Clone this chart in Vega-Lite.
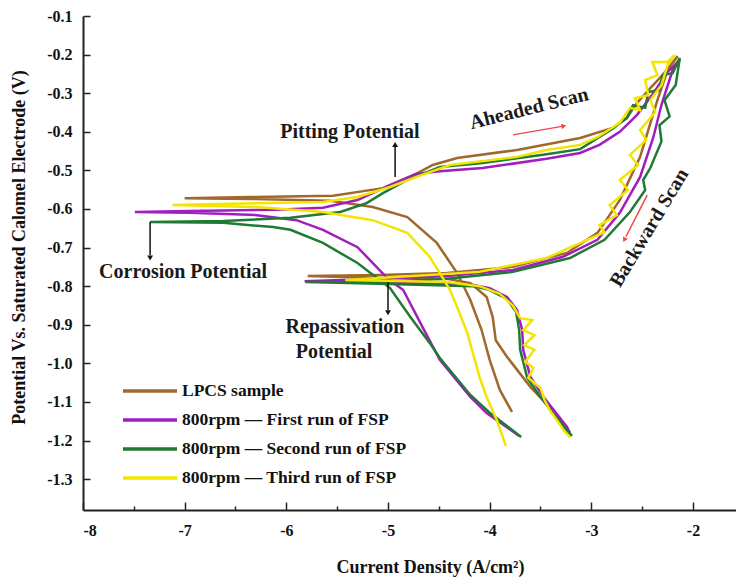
{
  "$schema": "https://vega.github.io/schema/vega-lite/v6.json",
  "width": 653,
  "height": 494,
  "autosize": {"type": "none"},
  "padding": {"left": 83, "top": 16, "right": 0, "bottom": 73},
  "background": "white",
  "config": {
    "font": "Liberation Serif",
    "view": {"stroke": null},
    "axis": {
      "domainColor": "#222",
      "domainWidth": 2,
      "tickColor": "#222",
      "tickWidth": 1.5,
      "labelFont": "Liberation Serif",
      "labelFontSize": 16,
      "labelFontWeight": "bold",
      "labelColor": "#111",
      "titleFont": "Liberation Serif",
      "titleFontSize": 18,
      "titleFontWeight": "bold",
      "titleColor": "#111",
      "grid": false,
      "labelOverlap": false
    }
  },
  "datasets": {
    "curves": [
      {"s": "LPCS sample", "i": 0, "x": -3.78, "y": -1.126},
      {"s": "LPCS sample", "i": 1, "x": -3.90, "y": -1.069},
      {"s": "LPCS sample", "i": 2, "x": -4.00, "y": -0.991},
      {"s": "LPCS sample", "i": 3, "x": -4.08, "y": -0.913},
      {"s": "LPCS sample", "i": 4, "x": -4.19, "y": -0.836},
      {"s": "LPCS sample", "i": 5, "x": -4.32, "y": -0.766},
      {"s": "LPCS sample", "i": 6, "x": -4.52, "y": -0.688},
      {"s": "LPCS sample", "i": 7, "x": -4.81, "y": -0.621},
      {"s": "LPCS sample", "i": 8, "x": -5.15, "y": -0.595},
      {"s": "LPCS sample", "i": 9, "x": -5.57, "y": -0.579},
      {"s": "LPCS sample", "i": 10, "x": -6.36, "y": -0.574},
      {"s": "LPCS sample", "i": 11, "x": -7.00, "y": -0.572},
      {"s": "LPCS sample", "i": 12, "x": -6.36, "y": -0.569},
      {"s": "LPCS sample", "i": 13, "x": -5.54, "y": -0.566},
      {"s": "LPCS sample", "i": 14, "x": -5.05, "y": -0.546},
      {"s": "LPCS sample", "i": 15, "x": -4.71, "y": -0.507},
      {"s": "LPCS sample", "i": 16, "x": -4.56, "y": -0.486},
      {"s": "LPCS sample", "i": 17, "x": -4.32, "y": -0.468},
      {"s": "LPCS sample", "i": 18, "x": -3.73, "y": -0.447},
      {"s": "LPCS sample", "i": 19, "x": -3.11, "y": -0.416},
      {"s": "LPCS sample", "i": 20, "x": -2.79, "y": -0.390},
      {"s": "LPCS sample", "i": 21, "x": -2.65, "y": -0.364},
      {"s": "LPCS sample", "i": 22, "x": -2.55, "y": -0.325},
      {"s": "LPCS sample", "i": 23, "x": -2.42, "y": -0.287},
      {"s": "LPCS sample", "i": 24, "x": -2.30, "y": -0.253},
      {"s": "LPCS sample", "i": 25, "x": -2.15, "y": -0.204},
      {"s": "LPCS sample", "i": 26, "x": -2.25, "y": -0.240},
      {"s": "LPCS sample", "i": 27, "x": -2.35, "y": -0.318},
      {"s": "LPCS sample", "i": 28, "x": -2.52, "y": -0.465},
      {"s": "LPCS sample", "i": 29, "x": -2.72, "y": -0.577},
      {"s": "LPCS sample", "i": 30, "x": -2.94, "y": -0.662},
      {"s": "LPCS sample", "i": 31, "x": -3.24, "y": -0.714},
      {"s": "LPCS sample", "i": 32, "x": -3.77, "y": -0.750},
      {"s": "LPCS sample", "i": 33, "x": -4.42, "y": -0.766},
      {"s": "LPCS sample", "i": 34, "x": -5.08, "y": -0.771},
      {"s": "LPCS sample", "i": 35, "x": -5.79, "y": -0.774},
      {"s": "LPCS sample", "i": 36, "x": -5.08, "y": -0.779},
      {"s": "LPCS sample", "i": 37, "x": -4.42, "y": -0.781},
      {"s": "LPCS sample", "i": 38, "x": -4.19, "y": -0.792},
      {"s": "LPCS sample", "i": 39, "x": -4.03, "y": -0.828},
      {"s": "LPCS sample", "i": 40, "x": -3.97, "y": -0.880},
      {"s": "LPCS sample", "i": 41, "x": -3.94, "y": -0.940},
      {"s": "LPCS sample", "i": 42, "x": -3.83, "y": -0.983},
      {"s": "LPCS sample", "i": 43, "x": -3.60, "y": -1.061},
      {"s": "LPCS sample", "i": 44, "x": -3.46, "y": -1.100},
      {"s": "LPCS sample", "i": 45, "x": -3.26, "y": -1.160},

      {"s": "800rpm — First run of FSP", "i": 0, "x": -3.71, "y": -1.188},
      {"s": "800rpm — First run of FSP", "i": 1, "x": -4.03, "y": -1.129},
      {"s": "800rpm — First run of FSP", "i": 2, "x": -4.19, "y": -1.087},
      {"s": "800rpm — First run of FSP", "i": 3, "x": -4.49, "y": -0.991},
      {"s": "800rpm — First run of FSP", "i": 4, "x": -4.66, "y": -0.906},
      {"s": "800rpm — First run of FSP", "i": 5, "x": -4.85, "y": -0.810},
      {"s": "800rpm — First run of FSP", "i": 6, "x": -5.00, "y": -0.781},
      {"s": "800rpm — First run of FSP", "i": 7, "x": -5.30, "y": -0.699},
      {"s": "800rpm — First run of FSP", "i": 8, "x": -5.64, "y": -0.654},
      {"s": "800rpm — First run of FSP", "i": 9, "x": -5.90, "y": -0.629},
      {"s": "800rpm — First run of FSP", "i": 10, "x": -6.29, "y": -0.616},
      {"s": "800rpm — First run of FSP", "i": 11, "x": -6.95, "y": -0.610},
      {"s": "800rpm — First run of FSP", "i": 12, "x": -7.49, "y": -0.608},
      {"s": "800rpm — First run of FSP", "i": 13, "x": -6.95, "y": -0.605},
      {"s": "800rpm — First run of FSP", "i": 14, "x": -6.10, "y": -0.602},
      {"s": "800rpm — First run of FSP", "i": 15, "x": -5.64, "y": -0.597},
      {"s": "800rpm — First run of FSP", "i": 16, "x": -5.30, "y": -0.577},
      {"s": "800rpm — First run of FSP", "i": 17, "x": -4.98, "y": -0.538},
      {"s": "800rpm — First run of FSP", "i": 18, "x": -4.72, "y": -0.509},
      {"s": "800rpm — First run of FSP", "i": 19, "x": -4.49, "y": -0.502},
      {"s": "800rpm — First run of FSP", "i": 20, "x": -4.07, "y": -0.494},
      {"s": "800rpm — First run of FSP", "i": 21, "x": -3.44, "y": -0.470},
      {"s": "800rpm — First run of FSP", "i": 22, "x": -3.11, "y": -0.455},
      {"s": "800rpm — First run of FSP", "i": 23, "x": -2.92, "y": -0.434},
      {"s": "800rpm — First run of FSP", "i": 24, "x": -2.72, "y": -0.400},
      {"s": "800rpm — First run of FSP", "i": 25, "x": -2.55, "y": -0.356},
      {"s": "800rpm — First run of FSP", "i": 26, "x": -2.39, "y": -0.300},
      {"s": "800rpm — First run of FSP", "i": 27, "x": -2.25, "y": -0.245},
      {"s": "800rpm — First run of FSP", "i": 28, "x": -2.13, "y": -0.214},
      {"s": "800rpm — First run of FSP", "i": 29, "x": -2.20, "y": -0.240},
      {"s": "800rpm — First run of FSP", "i": 30, "x": -2.31, "y": -0.330},
      {"s": "800rpm — First run of FSP", "i": 31, "x": -2.39, "y": -0.414},
      {"s": "800rpm — First run of FSP", "i": 32, "x": -2.52, "y": -0.517},
      {"s": "800rpm — First run of FSP", "i": 33, "x": -2.72, "y": -0.610},
      {"s": "800rpm — First run of FSP", "i": 34, "x": -2.94, "y": -0.680},
      {"s": "800rpm — First run of FSP", "i": 35, "x": -3.28, "y": -0.724},
      {"s": "800rpm — First run of FSP", "i": 36, "x": -3.77, "y": -0.758},
      {"s": "800rpm — First run of FSP", "i": 37, "x": -4.42, "y": -0.774},
      {"s": "800rpm — First run of FSP", "i": 38, "x": -5.08, "y": -0.781},
      {"s": "800rpm — First run of FSP", "i": 39, "x": -5.82, "y": -0.787},
      {"s": "800rpm — First run of FSP", "i": 40, "x": -5.08, "y": -0.792},
      {"s": "800rpm — First run of FSP", "i": 41, "x": -4.42, "y": -0.794},
      {"s": "800rpm — First run of FSP", "i": 42, "x": -4.16, "y": -0.797},
      {"s": "800rpm — First run of FSP", "i": 43, "x": -4.00, "y": -0.805},
      {"s": "800rpm — First run of FSP", "i": 44, "x": -3.83, "y": -0.828},
      {"s": "800rpm — First run of FSP", "i": 45, "x": -3.73, "y": -0.862},
      {"s": "800rpm — First run of FSP", "i": 46, "x": -3.68, "y": -0.914},
      {"s": "800rpm — First run of FSP", "i": 47, "x": -3.67, "y": -0.965},
      {"s": "800rpm — First run of FSP", "i": 48, "x": -3.60, "y": -1.035},
      {"s": "800rpm — First run of FSP", "i": 49, "x": -3.47, "y": -1.087},
      {"s": "800rpm — First run of FSP", "i": 50, "x": -3.24, "y": -1.165},
      {"s": "800rpm — First run of FSP", "i": 51, "x": -3.21, "y": -1.180},

      {"s": "800rpm — Second run of FSP", "i": 0, "x": -3.69, "y": -1.191},
      {"s": "800rpm — Second run of FSP", "i": 1, "x": -4.00, "y": -1.128},
      {"s": "800rpm — Second run of FSP", "i": 2, "x": -4.19, "y": -1.082},
      {"s": "800rpm — Second run of FSP", "i": 3, "x": -4.49, "y": -0.986},
      {"s": "800rpm — Second run of FSP", "i": 4, "x": -4.59, "y": -0.947},
      {"s": "800rpm — Second run of FSP", "i": 5, "x": -4.78, "y": -0.880},
      {"s": "800rpm — Second run of FSP", "i": 6, "x": -4.98, "y": -0.805},
      {"s": "800rpm — Second run of FSP", "i": 7, "x": -5.30, "y": -0.740},
      {"s": "800rpm — Second run of FSP", "i": 8, "x": -5.64, "y": -0.688},
      {"s": "800rpm — Second run of FSP", "i": 9, "x": -5.96, "y": -0.654},
      {"s": "800rpm — Second run of FSP", "i": 10, "x": -6.13, "y": -0.647},
      {"s": "800rpm — Second run of FSP", "i": 11, "x": -6.62, "y": -0.636},
      {"s": "800rpm — Second run of FSP", "i": 12, "x": -7.34, "y": -0.634},
      {"s": "800rpm — Second run of FSP", "i": 13, "x": -6.62, "y": -0.631},
      {"s": "800rpm — Second run of FSP", "i": 14, "x": -5.96, "y": -0.623},
      {"s": "800rpm — Second run of FSP", "i": 15, "x": -5.47, "y": -0.608},
      {"s": "800rpm — Second run of FSP", "i": 16, "x": -5.21, "y": -0.585},
      {"s": "800rpm — Second run of FSP", "i": 17, "x": -5.05, "y": -0.559},
      {"s": "800rpm — Second run of FSP", "i": 18, "x": -4.81, "y": -0.525},
      {"s": "800rpm — Second run of FSP", "i": 19, "x": -4.49, "y": -0.491},
      {"s": "800rpm — Second run of FSP", "i": 20, "x": -4.07, "y": -0.481},
      {"s": "800rpm — Second run of FSP", "i": 21, "x": -3.44, "y": -0.458},
      {"s": "800rpm — Second run of FSP", "i": 22, "x": -3.11, "y": -0.445},
      {"s": "800rpm — Second run of FSP", "i": 23, "x": -2.79, "y": -0.392},
      {"s": "800rpm — Second run of FSP", "i": 24, "x": -2.65, "y": -0.364},
      {"s": "800rpm — Second run of FSP", "i": 25, "x": -2.59, "y": -0.331},
      {"s": "800rpm — Second run of FSP", "i": 26, "x": -2.47, "y": -0.338},
      {"s": "800rpm — Second run of FSP", "i": 27, "x": -2.44, "y": -0.297},
      {"s": "800rpm — Second run of FSP", "i": 28, "x": -2.33, "y": -0.292},
      {"s": "800rpm — Second run of FSP", "i": 29, "x": -2.30, "y": -0.253},
      {"s": "800rpm — Second run of FSP", "i": 30, "x": -2.20, "y": -0.248},
      {"s": "800rpm — Second run of FSP", "i": 31, "x": -2.13, "y": -0.209},
      {"s": "800rpm — Second run of FSP", "i": 32, "x": -2.17, "y": -0.279},
      {"s": "800rpm — Second run of FSP", "i": 33, "x": -2.28, "y": -0.318},
      {"s": "800rpm — Second run of FSP", "i": 34, "x": -2.23, "y": -0.360},
      {"s": "800rpm — Second run of FSP", "i": 35, "x": -2.33, "y": -0.383},
      {"s": "800rpm — Second run of FSP", "i": 36, "x": -2.31, "y": -0.425},
      {"s": "800rpm — Second run of FSP", "i": 37, "x": -2.42, "y": -0.494},
      {"s": "800rpm — Second run of FSP", "i": 38, "x": -2.49, "y": -0.525},
      {"s": "800rpm — Second run of FSP", "i": 39, "x": -2.47, "y": -0.551},
      {"s": "800rpm — Second run of FSP", "i": 40, "x": -2.62, "y": -0.608},
      {"s": "800rpm — Second run of FSP", "i": 41, "x": -2.87, "y": -0.680},
      {"s": "800rpm — Second run of FSP", "i": 42, "x": -3.21, "y": -0.727},
      {"s": "800rpm — Second run of FSP", "i": 43, "x": -3.77, "y": -0.763},
      {"s": "800rpm — Second run of FSP", "i": 44, "x": -4.42, "y": -0.781},
      {"s": "800rpm — Second run of FSP", "i": 45, "x": -5.08, "y": -0.789},
      {"s": "800rpm — Second run of FSP", "i": 46, "x": -5.81, "y": -0.789},
      {"s": "800rpm — Second run of FSP", "i": 47, "x": -5.08, "y": -0.794},
      {"s": "800rpm — Second run of FSP", "i": 48, "x": -4.16, "y": -0.800},
      {"s": "800rpm — Second run of FSP", "i": 49, "x": -4.00, "y": -0.810},
      {"s": "800rpm — Second run of FSP", "i": 50, "x": -3.83, "y": -0.833},
      {"s": "800rpm — Second run of FSP", "i": 51, "x": -3.74, "y": -0.867},
      {"s": "800rpm — Second run of FSP", "i": 52, "x": -3.71, "y": -0.914},
      {"s": "800rpm — Second run of FSP", "i": 53, "x": -3.70, "y": -0.965},
      {"s": "800rpm — Second run of FSP", "i": 54, "x": -3.63, "y": -1.038},
      {"s": "800rpm — Second run of FSP", "i": 55, "x": -3.50, "y": -1.087},
      {"s": "800rpm — Second run of FSP", "i": 56, "x": -3.26, "y": -1.168},
      {"s": "800rpm — Second run of FSP", "i": 57, "x": -3.19, "y": -1.188},

      {"s": "800rpm — Third run of FSP", "i": 0, "x": -3.84, "y": -1.214},
      {"s": "800rpm — Third run of FSP", "i": 1, "x": -3.93, "y": -1.147},
      {"s": "800rpm — Third run of FSP", "i": 2, "x": -4.03, "y": -1.087},
      {"s": "800rpm — Third run of FSP", "i": 3, "x": -4.10, "y": -1.035},
      {"s": "800rpm — Third run of FSP", "i": 4, "x": -4.22, "y": -0.921},
      {"s": "800rpm — Third run of FSP", "i": 5, "x": -4.32, "y": -0.854},
      {"s": "800rpm — Third run of FSP", "i": 6, "x": -4.39, "y": -0.810},
      {"s": "800rpm — Third run of FSP", "i": 7, "x": -4.49, "y": -0.766},
      {"s": "800rpm — Third run of FSP", "i": 8, "x": -4.59, "y": -0.724},
      {"s": "800rpm — Third run of FSP", "i": 9, "x": -4.81, "y": -0.662},
      {"s": "800rpm — Third run of FSP", "i": 10, "x": -5.15, "y": -0.629},
      {"s": "800rpm — Third run of FSP", "i": 11, "x": -5.64, "y": -0.608},
      {"s": "800rpm — Third run of FSP", "i": 12, "x": -6.29, "y": -0.595},
      {"s": "800rpm — Third run of FSP", "i": 13, "x": -7.12, "y": -0.590},
      {"s": "800rpm — Third run of FSP", "i": 14, "x": -6.29, "y": -0.585},
      {"s": "800rpm — Third run of FSP", "i": 15, "x": -5.64, "y": -0.582},
      {"s": "800rpm — Third run of FSP", "i": 16, "x": -5.30, "y": -0.569},
      {"s": "800rpm — Third run of FSP", "i": 17, "x": -4.98, "y": -0.543},
      {"s": "800rpm — Third run of FSP", "i": 18, "x": -4.72, "y": -0.517},
      {"s": "800rpm — Third run of FSP", "i": 19, "x": -4.39, "y": -0.486},
      {"s": "800rpm — Third run of FSP", "i": 20, "x": -3.73, "y": -0.465},
      {"s": "800rpm — Third run of FSP", "i": 21, "x": -3.44, "y": -0.447},
      {"s": "800rpm — Third run of FSP", "i": 22, "x": -3.11, "y": -0.434},
      {"s": "800rpm — Third run of FSP", "i": 23, "x": -2.94, "y": -0.414},
      {"s": "800rpm — Third run of FSP", "i": 24, "x": -2.72, "y": -0.377},
      {"s": "800rpm — Third run of FSP", "i": 25, "x": -2.62, "y": -0.338},
      {"s": "800rpm — Third run of FSP", "i": 26, "x": -2.52, "y": -0.344},
      {"s": "800rpm — Third run of FSP", "i": 27, "x": -2.57, "y": -0.313},
      {"s": "800rpm — Third run of FSP", "i": 28, "x": -2.44, "y": -0.305},
      {"s": "800rpm — Third run of FSP", "i": 29, "x": -2.47, "y": -0.266},
      {"s": "800rpm — Third run of FSP", "i": 30, "x": -2.35, "y": -0.253},
      {"s": "800rpm — Third run of FSP", "i": 31, "x": -2.40, "y": -0.219},
      {"s": "800rpm — Third run of FSP", "i": 32, "x": -2.25, "y": -0.219},
      {"s": "800rpm — Third run of FSP", "i": 33, "x": -2.18, "y": -0.201},
      {"s": "800rpm — Third run of FSP", "i": 34, "x": -2.25, "y": -0.227},
      {"s": "800rpm — Third run of FSP", "i": 35, "x": -2.31, "y": -0.279},
      {"s": "800rpm — Third run of FSP", "i": 36, "x": -2.42, "y": -0.318},
      {"s": "800rpm — Third run of FSP", "i": 37, "x": -2.37, "y": -0.349},
      {"s": "800rpm — Third run of FSP", "i": 38, "x": -2.52, "y": -0.395},
      {"s": "800rpm — Third run of FSP", "i": 39, "x": -2.46, "y": -0.421},
      {"s": "800rpm — Third run of FSP", "i": 40, "x": -2.62, "y": -0.460},
      {"s": "800rpm — Third run of FSP", "i": 41, "x": -2.54, "y": -0.486},
      {"s": "800rpm — Third run of FSP", "i": 42, "x": -2.72, "y": -0.525},
      {"s": "800rpm — Third run of FSP", "i": 43, "x": -2.64, "y": -0.551},
      {"s": "800rpm — Third run of FSP", "i": 44, "x": -2.82, "y": -0.590},
      {"s": "800rpm — Third run of FSP", "i": 45, "x": -2.75, "y": -0.616},
      {"s": "800rpm — Third run of FSP", "i": 46, "x": -2.92, "y": -0.642},
      {"s": "800rpm — Third run of FSP", "i": 47, "x": -2.87, "y": -0.660},
      {"s": "800rpm — Third run of FSP", "i": 48, "x": -3.04, "y": -0.680},
      {"s": "800rpm — Third run of FSP", "i": 49, "x": -3.44, "y": -0.727},
      {"s": "800rpm — Third run of FSP", "i": 50, "x": -4.10, "y": -0.763},
      {"s": "800rpm — Third run of FSP", "i": 51, "x": -5.08, "y": -0.779},
      {"s": "800rpm — Third run of FSP", "i": 52, "x": -5.42, "y": -0.784},
      {"s": "800rpm — Third run of FSP", "i": 53, "x": -4.42, "y": -0.789},
      {"s": "800rpm — Third run of FSP", "i": 54, "x": -4.10, "y": -0.800},
      {"s": "800rpm — Third run of FSP", "i": 55, "x": -3.90, "y": -0.820},
      {"s": "800rpm — Third run of FSP", "i": 56, "x": -3.77, "y": -0.851},
      {"s": "800rpm — Third run of FSP", "i": 57, "x": -3.70, "y": -0.883},
      {"s": "800rpm — Third run of FSP", "i": 58, "x": -3.58, "y": -0.888},
      {"s": "800rpm — Third run of FSP", "i": 59, "x": -3.67, "y": -0.914},
      {"s": "800rpm — Third run of FSP", "i": 60, "x": -3.56, "y": -0.927},
      {"s": "800rpm — Third run of FSP", "i": 61, "x": -3.66, "y": -0.953},
      {"s": "800rpm — Third run of FSP", "i": 62, "x": -3.56, "y": -0.965},
      {"s": "800rpm — Third run of FSP", "i": 63, "x": -3.65, "y": -0.996},
      {"s": "800rpm — Third run of FSP", "i": 64, "x": -3.57, "y": -1.012},
      {"s": "800rpm — Third run of FSP", "i": 65, "x": -3.62, "y": -1.038},
      {"s": "800rpm — Third run of FSP", "i": 66, "x": -3.50, "y": -1.064},
      {"s": "800rpm — Third run of FSP", "i": 67, "x": -3.46, "y": -1.095},
      {"s": "800rpm — Third run of FSP", "i": 68, "x": -3.41, "y": -1.121},
      {"s": "800rpm — Third run of FSP", "i": 69, "x": -3.34, "y": -1.147},
      {"s": "800rpm — Third run of FSP", "i": 70, "x": -3.26, "y": -1.178},
      {"s": "800rpm — Third run of FSP", "i": 71, "x": -3.21, "y": -1.191}
    ],
    "labels": [
      {"t": "Pitting Potential", "x": -5.374, "y": -0.400},
      {"t": "Corrosion Potential", "x": -7.016, "y": -0.763},
      {"t": "Repassivation", "x": -5.423, "y": -0.906},
      {"t": "Potential", "x": -5.531, "y": -0.970}
    ],
    "ahead": [{"t": "Aheaded Scan", "x": -3.613, "y": -0.340}],
    "back": [{"t": "Backward Scan", "x": -2.43, "y": -0.649}],
    "blackArrows": [
      {"x": -4.93, "y": -0.517, "x2": -4.93, "y2": -0.437},
      {"x": -7.34, "y": -0.634, "x2": -7.34, "y2": -0.720},
      {"x": -5.0, "y": -0.790, "x2": -5.0, "y2": -0.862}
    ],
    "headsUp": [{"x": -4.93, "y": -0.433}],
    "headsDown": [{"x": -7.34, "y": -0.727}, {"x": -5.0, "y": -0.869}],
    "redArrows": [
      {"x": -3.77, "y": -0.408, "x2": -3.29, "y2": -0.386},
      {"x": -2.45, "y": -0.564, "x2": -2.66, "y2": -0.672}
    ],
    "redHead1": [{"x": -3.27, "y": -0.385}],
    "redHead2": [{"x": -2.675, "y": -0.680}]
  },
  "encoding": {
    "x": {
      "field": "x",
      "type": "quantitative",
      "scale": {"domain": [-8, -1.577], "nice": false, "zero": false},
      "title": "Current Density (A/cm²)",
      "axis": {
        "values": [-8, -7.5, -7, -6.5, -6, -5.5, -5, -4.5, -4, -3.5, -3, -2.5, -2],
        "labelExpr": "datum.value % 1 == 0 ? replace(format(datum.value, 'd'), '\u2212', '-') : ''",
        "tickSize": {"condition": {"test": "datum.value % 1 != 0", "value": -4}, "value": -8},
        "labelPadding": 20,
        "titlePadding": 16,
        "titleX": 347
      }
    },
    "y": {
      "field": "y",
      "type": "quantitative",
      "scale": {"domain": [-1.38, -0.1], "nice": false, "zero": false},
      "title": "Potential Vs. Saturated Calomel Electrode (V)",
      "axis": {
        "values": [-1.3, -1.2, -1.1, -1.0, -0.9, -0.8, -0.7, -0.6, -0.5, -0.4, -0.3, -0.2, -0.1],
        "labelExpr": "replace(format(datum.value, '.1f'), '\u2212', '-')",
        "tickSize": -7,
        "labelPadding": 18,
        "titlePadding": 18,
        "titleY": 231
      }
    }
  },
  "layer": [
    {
      "mark": {"type": "rule", "color": "#222", "strokeWidth": 2},
      "encoding": {"y": {"datum": -0.1}, "x": {"datum": -8}, "x2": {"datum": -1.577}}
    },
    {
      "data": {"name": "curves"},
      "mark": {"type": "line", "strokeWidth": 2.5},
      "encoding": {
        "color": {
          "field": "s",
          "type": "nominal",
          "scale": {
            "domain": ["LPCS sample", "800rpm — First run of FSP", "800rpm — Second run of FSP", "800rpm — Third run of FSP"],
            "range": ["#A0682C", "#A21CC0", "#1F7A33", "#F2E600"]
          },
          "legend": {
            "title": null,
            "orient": "none",
            "legendX": 56,
            "legendY": 364,
            "padding": 0,
            "symbolType": "M-3,0L3,0",
            "symbolSize": 324,
            "symbolStrokeWidth": 3.5,
            "labelFont": "Liberation Serif",
            "labelFontSize": 17.5,
            "labelFontWeight": "bold",
            "labelColor": "#111",
            "labelLimit": 400,
            "labelOffset": 21,
            "rowPadding": 9
          }
        },
        "order": {"field": "i", "type": "quantitative"}
      }
    },
    {
      "data": {"name": "labels"},
      "mark": {"type": "text", "font": "Liberation Serif", "fontSize": 20, "fontWeight": "bold", "color": "#1a1a1a"},
      "encoding": {"text": {"field": "t"}}
    },
    {
      "data": {"name": "ahead"},
      "mark": {"type": "text", "font": "Liberation Serif", "fontSize": 20, "fontWeight": "bold", "color": "#1a1a1a", "angle": -14},
      "encoding": {"text": {"field": "t"}}
    },
    {
      "data": {"name": "back"},
      "mark": {"type": "text", "font": "Liberation Serif", "fontSize": 20, "fontWeight": "bold", "color": "#1a1a1a", "angle": -59},
      "encoding": {"text": {"field": "t"}}
    },
    {
      "data": {"name": "blackArrows"},
      "mark": {"type": "rule", "color": "#111", "strokeWidth": 1.5},
      "encoding": {"x2": {"field": "x2"}, "y2": {"field": "y2"}}
    },
    {
      "data": {"name": "headsUp"},
      "mark": {"type": "point", "shape": "triangle-up", "filled": true, "color": "#111", "size": 35, "opacity": 1}
    },
    {
      "data": {"name": "headsDown"},
      "mark": {"type": "point", "shape": "triangle-down", "filled": true, "color": "#111", "size": 35, "opacity": 1}
    },
    {
      "data": {"name": "redArrows"},
      "mark": {"type": "rule", "color": "#F04848", "strokeWidth": 1.5},
      "encoding": {"x2": {"field": "x2"}, "y2": {"field": "y2"}}
    },
    {
      "data": {"name": "redHead1"},
      "mark": {"type": "point", "shape": "triangle-right", "filled": true, "color": "#F04848", "size": 30, "opacity": 1, "angle": -11}
    },
    {
      "data": {"name": "redHead2"},
      "mark": {"type": "point", "shape": "triangle-right", "filled": true, "color": "#F04848", "size": 30, "opacity": 1, "angle": 117}
    }
  ]
}
